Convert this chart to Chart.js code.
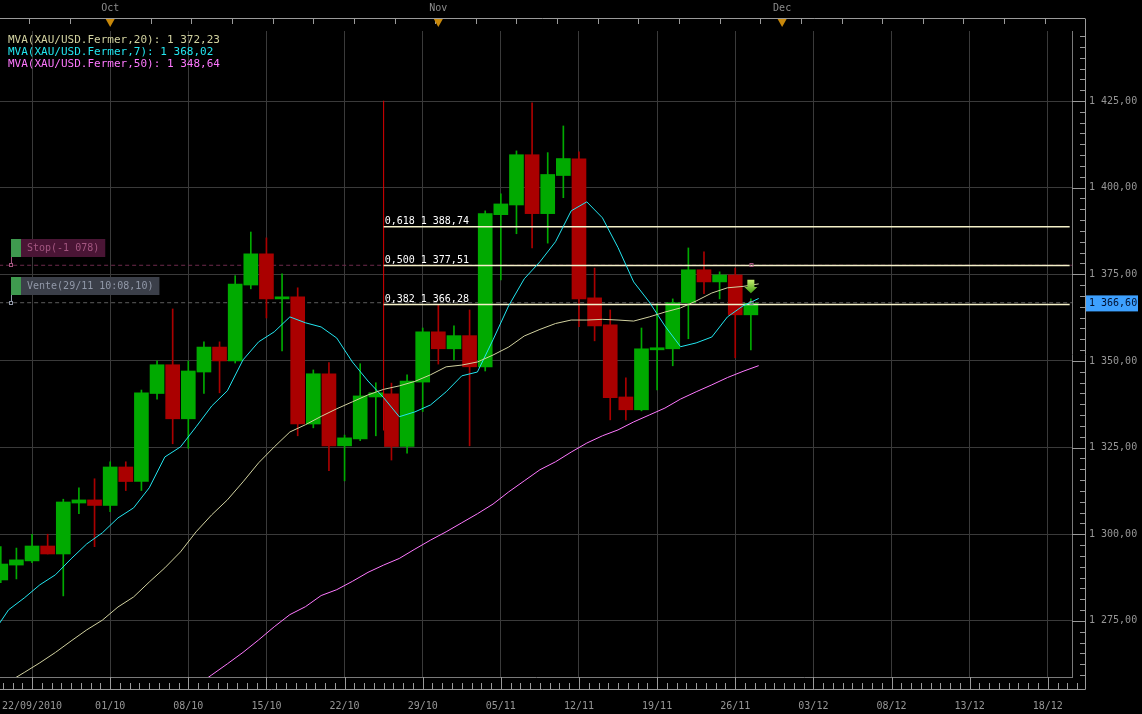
<!DOCTYPE html>
<html>
<head>
<meta charset="utf-8">
<script src="https://cdn.jsdelivr.net/npm/chart.js@4/dist/chart.umd.min.js"></script>
<style>
  html, body { margin: 0; padding: 0; background: #000; }
  canvas { display: block; }
</style>
</head>
<body>
<canvas id="chart" width="1142" height="714"></canvas>
<script>
// daily candles XAU/USD, one slot per trading day
const opens = [1286.8, 1291.1, 1292.3, 1296.6, 1294.3, 1309.0, 1309.9, 1308.3, 1319.4, 1315.2,
  1340.6, 1348.9, 1333.3, 1346.8, 1354.0, 1350.0, 1371.9, 1380.9, 1367.9, 1368.5,
  1331.8, 1346.3, 1325.5, 1327.5, 1339.6, 1340.5, 1325.3, 1343.9, 1358.4, 1353.5,
  1357.3, 1348.3, 1392.2, 1395.0, 1409.5, 1392.5, 1403.5, 1408.3, 1368.2, 1360.4,
  1339.6, 1335.9, 1353.2, 1353.5, 1366.8, 1376.3, 1372.8, 1374.8, 1363.3];
const highs = [1296.4, 1296.0, 1300.0, 1300.0, 1310.1, 1313.4, 1316.0, 1320.9, 1320.9, 1341.6,
  1350.0, 1365.0, 1350.0, 1355.5, 1355.5, 1374.6, 1387.2, 1385.5, 1375.1, 1371.1,
  1347.4, 1349.5, 1328.6, 1349.2, 1343.7, 1343.6, 1346.0, 1359.5, 1366.2, 1360.1,
  1364.7, 1393.3, 1398.2, 1410.6, 1424.5, 1410.1, 1417.8, 1410.3, 1376.8, 1364.7,
  1345.1, 1359.5, 1366.5, 1367.9, 1382.6, 1381.5, 1375.7, 1376.8, 1367.9];
const lows = [1286.0, 1287.1, 1291.8, 1294.3, 1282.2, 1305.9, 1296.4, 1306.5, 1312.6, 1312.6,
  1339.0, 1326.1, 1324.8, 1340.6, 1340.8, 1349.4, 1370.8, 1362.4, 1352.9, 1328.4,
  1330.7, 1318.3, 1315.4, 1327.0, 1328.4, 1321.4, 1323.4, 1335.4, 1349.1, 1350.3,
  1325.5, 1347.1, 1373.4, 1386.7, 1382.6, 1384.0, 1397.1, 1359.9, 1355.8, 1333.0,
  1333.0, 1335.6, 1341.6, 1348.6, 1356.4, 1369.4, 1367.9, 1350.9, 1353.2];
const closes = [1291.4, 1292.6, 1296.6, 1294.3, 1309.3, 1309.9, 1308.3, 1319.4, 1315.2, 1340.8,
  1348.9, 1333.3, 1347.1, 1354.0, 1350.0, 1372.2, 1380.9, 1367.9, 1368.5, 1331.8,
  1346.3, 1325.5, 1327.8, 1339.9, 1340.8, 1325.3, 1344.2, 1358.4, 1353.5, 1357.3,
  1348.3, 1392.5, 1395.3, 1409.5, 1392.5, 1403.8, 1408.4, 1367.9, 1360.1, 1339.4,
  1335.9, 1353.5, 1353.8, 1366.8, 1376.3, 1372.8, 1374.8, 1363.3, 1366.6];

// moving averages, first value belongs to the slot before the first candle
const ma20 = [1254.5, 1257.4, 1260.1, 1262.9, 1265.9, 1269.2, 1272.4, 1275.2, 1279.0, 1281.9,
  1286.2, 1290.3, 1294.9, 1300.7, 1305.6, 1309.9, 1315.1, 1320.6, 1325.2, 1329.5,
  1331.6, 1334.0, 1336.2, 1338.2, 1340.2, 1341.8, 1342.8, 1344.1, 1346.0, 1348.3,
  1348.8, 1349.7, 1351.7, 1354.0, 1357.2, 1359.1, 1360.8, 1361.8, 1361.8, 1362.0,
  1361.8, 1361.5, 1362.7, 1364.1, 1365.3, 1367.3, 1369.6, 1371.1, 1371.5, 1372.23];
const ma7 = [1271.5, 1278.2, 1281.6, 1285.4, 1288.3, 1292.9, 1297.2, 1300.4, 1304.7, 1307.6,
  1313.4, 1322.3, 1325.2, 1331.0, 1337.0, 1341.4, 1350.3, 1355.5, 1358.4, 1362.7,
  1361.0, 1359.8, 1356.6, 1349.7, 1344.2, 1339.4, 1333.9, 1335.3, 1337.3, 1341.1,
  1345.7, 1346.8, 1356.1, 1365.9, 1373.7, 1378.6, 1384.4, 1393.3, 1395.9, 1391.3,
  1382.7, 1372.8, 1367.0, 1360.1, 1354.1, 1355.2, 1356.9, 1362.7, 1365.9, 1368.02];
const ma50 = [null, null, null, null, null, null, null, null, null, null,
  null, null, null, 1256.2, 1259.4, 1262.6, 1265.9, 1269.5, 1273.3, 1276.8,
  1279.1, 1282.3, 1284.0, 1286.4, 1289.0, 1291.1, 1293.0, 1295.7, 1298.3, 1300.7,
  1303.3, 1305.9, 1308.7, 1312.2, 1315.4, 1318.6, 1320.9, 1323.7, 1326.3, 1328.4,
  1330.1, 1332.4, 1334.4, 1336.4, 1339.0, 1341.1, 1343.1, 1345.2, 1347.0, 1348.64];

const tickSlots = [2, 7, 12, 17, 22, 27, 32, 37, 42, 47, 52, 57, 62, 67];
const tickLabels = ["22/09/2010", "01/10", "08/10", "15/10", "22/10", "29/10", "05/11",
  "12/11", "19/11", "26/11", "03/12", "08/12", "13/12", "18/12"];
const yTicks = [1275, 1300, 1325, 1350, 1375, 1400, 1425];
const monthSlots = [7, 28, 50];
const monthLabels = ["Oct", "Nov", "Dec"];

// fibonacci retracement
const fibHigh = 1425.09;
const fibLow = 1329.92;
const fibStart = 24.5;
const fibEnd = 68.4;
const fibRatios = ["0,382", "0,500", "0,618"];
const fibValues = [1366.28, 1377.51, 1388.74];

const stopLevel = 1377.6;
const venteLevel = 1366.8;
const stopText = "Stop(-1 078)";
const venteText = "Vente(29/11 10:08,10)";
const lastPrice = 1366.6;
const signalSlot = 48;

const GREEN = "#00aa00";
const RED = "#aa0000";

function fmt(v) {
  const parts = v.toFixed(2).split(".");
  return parts[0].replace(/\B(?=(\d{3})+(?!\d))/g, " ") + "," + parts[1];
}

const slots = opens.map((o, i) => i);
const candleColors = slots.map(i => closes[i] >= opens[i] ? GREEN : RED);
const maPoints = arr => arr.map((v, k) => ({ x: k - 0.5, y: v }));

const mono = "'DejaVu Sans Mono', monospace";

const decor = {
  id: "decor",
  afterDraw(chart) {
    const ctx = chart.ctx;
    const a = chart.chartArea;
    const x = chart.scales.x;
    const y = chart.scales.y;
    const r = Math.round;
    ctx.save();
    ctx.lineWidth = 1;

    // axis strips
    ctx.strokeStyle = "#9a9a9a";
    ctx.beginPath();
    ctx.moveTo(0, a.bottom + 12.5); ctx.lineTo(a.right + 13.5, a.bottom + 12.5);
    ctx.moveTo(a.right + 13.5, 19); ctx.lineTo(a.right + 13.5, a.bottom + 12.5);
    ctx.moveTo(0, 18.5); ctx.lineTo(a.right + 13.5, 18.5);
    ctx.stroke();

    // y minor ticks
    ctx.beginPath();
    for (let v = yTicks[0] - 25; v <= y.max; v += 25 / 8) {
      if (v < y.min) continue;
      const py = r(y.getPixelForValue(v)) + 0.5;
      const major = Math.abs((v - yTicks[0]) % 25) < 0.01;
      ctx.moveTo(major ? a.right : a.right + 8, py);
      ctx.lineTo(a.right + 13, py);
    }
    // x minor ticks
    for (let s = tickSlots[0] - 5; s <= x.max + 1; s += 5 / 8) {
      const px = r(x.getPixelForValue(s)) + 0.5;
      if (px < 0 || px > a.right + 13) continue;
      const major = Math.abs((s - tickSlots[0]) % 5) < 0.01;
      ctx.moveTo(px, major ? a.bottom : a.bottom + 6);
      ctx.lineTo(px, a.bottom + 12);
    }
    // top strip ticks
    for (let s = monthSlots[0] - 2.6 * 3; s <= x.max; s += 2.6) {
      const px = r(x.getPixelForValue(s)) + 0.5;
      if (px < 0) continue;
      ctx.moveTo(px, 19); ctx.lineTo(px, 24);
    }
    ctx.stroke();

    // month markers
    ctx.font = "10px " + mono;
    ctx.textAlign = "center";
    ctx.textBaseline = "middle";
    monthSlots.forEach((s, k) => {
      const px = x.getPixelForValue(s);
      ctx.fillStyle = "#8c8c8c";
      ctx.fillText(monthLabels[k], px, 8);
      ctx.fillStyle = "#c8880a";
      ctx.beginPath();
      ctx.moveTo(px - 4.5, 19); ctx.lineTo(px + 4.5, 19); ctx.lineTo(px, 27);
      ctx.closePath(); ctx.fill();
    });

    // legend
    ctx.textAlign = "left";
    ctx.font = "11px " + mono;
    const legend = [
      ["MVA(XAU/USD.Fermer,20): ", ma20, "#d2d2a0"],
      ["MVA(XAU/USD.Fermer,7): ", ma7, "#22e6f0"],
      ["MVA(XAU/USD.Fermer,50): ", ma50, "#ff78ff"]
    ];
    legend.forEach((l, k) => {
      ctx.fillStyle = l[2];
      ctx.fillText(l[0] + fmt(l[1][l[1].length - 1]), 8, 40 + k * 12.2);
    });

    // fibonacci labels
    ctx.font = "10px " + mono;
    ctx.fillStyle = "#ffffff";
    ctx.textBaseline = "alphabetic";
    fibValues.forEach((v, k) => {
      ctx.fillText(fibRatios[k] + " " + fmt(v), x.getPixelForValue(fibStart) + 1, y.getPixelForValue(v) - 3);
    });

    // order boxes and their markers on the signal candle
    ctx.textBaseline = "middle";
    const sx = r(x.getPixelForValue(signalSlot)) + 0.5;
    [[stopLevel, stopText, "#4a1535", "#a35680"], [venteLevel, venteText, "#3b3f49", "#9198a8"]].forEach(b => {
      const ly = r(y.getPixelForValue(b[0]));
      const w = ctx.measureText(b[1]).width + 12;
      ctx.fillStyle = "#3f9a4f";
      ctx.fillRect(11, ly - 26, 10, 18);
      ctx.fillStyle = b[2];
      ctx.fillRect(21, ly - 26, w, 18);
      ctx.fillStyle = b[3];
      ctx.fillText(b[1], 27, ly - 17);
      ctx.strokeStyle = b[3];
      ctx.beginPath();
      ctx.moveTo(11.5, ly - 8); ctx.lineTo(11.5, ly - 1);
      ctx.stroke();
      ctx.strokeRect(9.5, ly - 1.5, 3, 3);
      ctx.strokeRect(sx - 1.5, ly - 1.5, 3, 3);
    });

    // sell signal arrow
    const ax = x.getPixelForValue(signalSlot);
    const aTop = y.getPixelForValue(1373.4);
    const aMid = y.getPixelForValue(1371.3);
    const aTip = y.getPixelForValue(1369.5);
    const g = ctx.createLinearGradient(0, aTop, 0, aTip);
    g.addColorStop(0, "#c8f070");
    g.addColorStop(1, "#3c9a10");
    ctx.fillStyle = g;
    ctx.beginPath();
    ctx.moveTo(ax - 3.5, aTop); ctx.lineTo(ax + 3.5, aTop); ctx.lineTo(ax + 3.5, aMid);
    ctx.lineTo(ax + 6.5, aMid); ctx.lineTo(ax, aTip); ctx.lineTo(ax - 6.5, aMid);
    ctx.lineTo(ax - 3.5, aMid); ctx.closePath(); ctx.fill();

    // last price tag
    const py = y.getPixelForValue(lastPrice);
    ctx.fillStyle = "#3da0ff";
    ctx.fillRect(a.right + 14, py - 8, 52, 16);
    ctx.fillStyle = "#001030";
    ctx.font = "10px " + mono;
    ctx.fillText(fmt(lastPrice), a.right + 17, py);
    ctx.restore();
  }
};

const hLine = (v, from, to) => [{ x: from, y: v }, { x: to, y: v }];

new Chart("chart", {
  type: "bar",
  data: {
    datasets: [
      { type: "line", data: maPoints(ma20), borderColor: "#d2d2a0", borderWidth: 1, pointRadius: 0, order: 0 },
      { type: "line", data: maPoints(ma7), borderColor: "#22e6f0", borderWidth: 1, pointRadius: 0, order: 0 },
      { type: "line", data: maPoints(ma50), borderColor: "#ff78ff", borderWidth: 1, pointRadius: 0, order: 0 },
      ...fibValues.map(v => ({ type: "line", data: hLine(v, fibStart, fibEnd), borderColor: "#f4f0c8", borderWidth: 1.5, pointRadius: 0, order: 1 })),
      { type: "line", data: [{ x: fibStart, y: fibLow }, { x: fibStart, y: fibHigh }], borderColor: "#dd0000", borderWidth: 1, pointRadius: 0, order: 1 },
      { type: "line", data: hLine(stopLevel, -1, 70), borderColor: "#6e2a4c", borderDash: [4, 3], borderWidth: 1, pointRadius: 0, order: 4 },
      { type: "line", data: hLine(venteLevel, -1, 70), borderColor: "#5c5c5c", borderDash: [4, 3], borderWidth: 1, pointRadius: 0, order: 4 },
      { data: slots.map(i => ({ x: i, y: [opens[i], closes[i]] })), backgroundColor: candleColors, barThickness: 14, grouped: false, order: 2 },
      { data: slots.map(i => ({ x: i, y: [lows[i], highs[i]] })), backgroundColor: candleColors, barThickness: 1, grouped: false, order: 3 }
    ]
  },
  options: {
    responsive: false,
    devicePixelRatio: 1,
    animation: false,
    layout: { padding: { top: 31, left: 0, right: 0, bottom: 0 } },
    plugins: { legend: { display: false }, tooltip: { enabled: false } },
    scales: {
      x: {
        type: "linear",
        min: -0.05,
        max: 68.55,
        offset: false,
        afterBuildTicks: s => { s.ticks = tickSlots.map(v => ({ value: v })); },
        afterFit: s => { s.height = 37; s.paddingLeft = 0; s.paddingRight = 0; },
        ticks: {
          autoSkip: false, maxRotation: 0, padding: 23, color: "#969696",
          font: { family: mono, size: 10 },
          callback: v => tickLabels[tickSlots.indexOf(v)]
        },
        grid: { color: "#3a3a3a", drawTicks: false, offset: false },
        border: { color: "#7a7a7a" }
      },
      y: {
        type: "linear",
        position: "right",
        min: 1258.8,
        max: 1445.2,
        afterBuildTicks: s => { s.ticks = yTicks.map(v => ({ value: v })); },
        afterFit: s => { s.width = 70; s.paddingTop = 0; s.paddingBottom = 0; },
        ticks: {
          padding: 17, color: "#969696",
          font: { family: mono, size: 10 },
          callback: v => fmt(v)
        },
        grid: { color: "#3a3a3a", drawTicks: false },
        border: { color: "#7a7a7a" }
      }
    }
  },
  plugins: [decor]
});
</script>
</body>
</html>
